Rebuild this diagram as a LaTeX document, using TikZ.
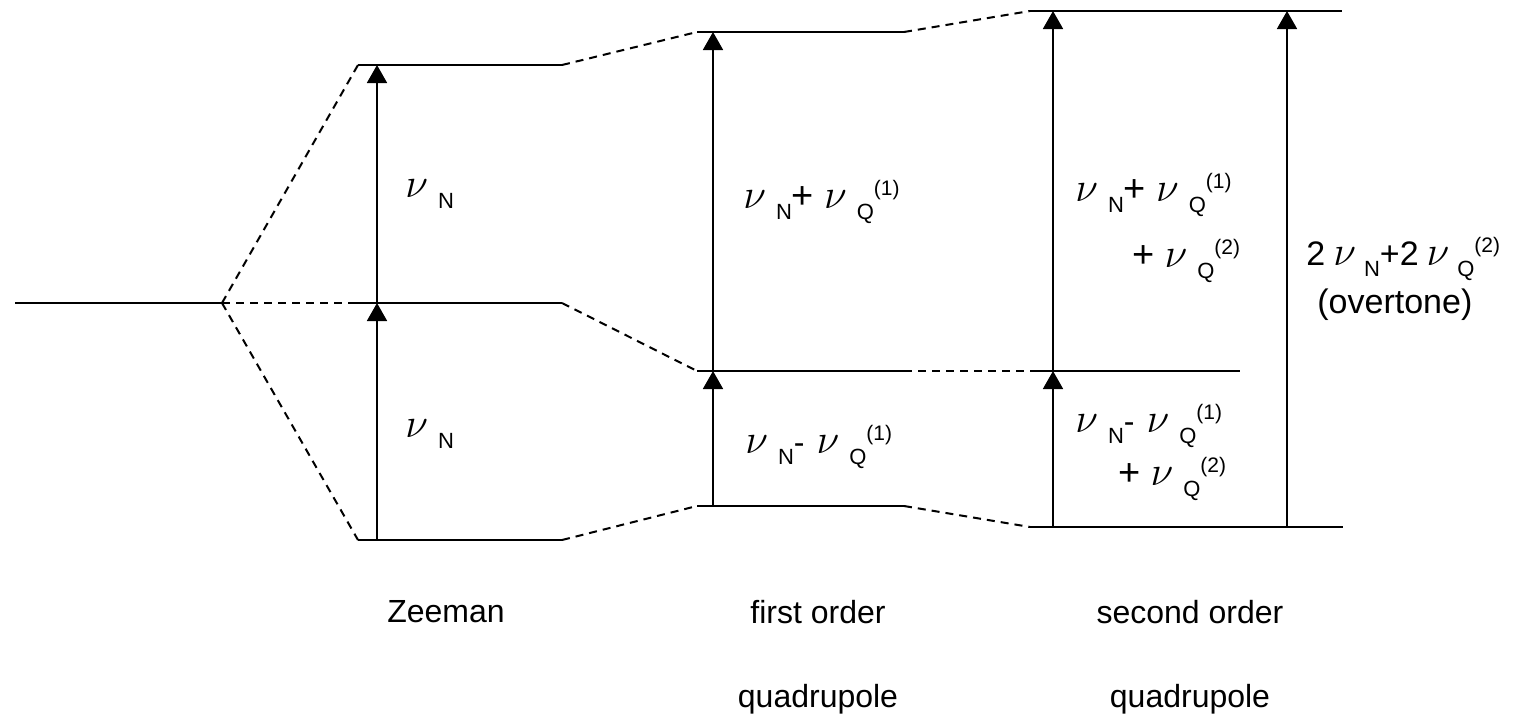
\documentclass[tikz,border=0pt]{standalone}
\usepackage{fontspec}
\setmainfont{Liberation Sans}
\usetikzlibrary{arrows.meta}
\newcommand\nv{{\fontsize{21.5}{22}\selectfont$\nu$}}
\newcommand\pl{{\fontsize{19}{20}\selectfont +}}
\newcommand\sbs[1]{\raisebox{-5.5pt}{\fontsize{11}{12}\selectfont #1}}
\newcommand\sps[1]{\raisebox{6.5pt}{\fontsize{10.5}{12}\selectfont #1}}
\tikzset{
  level/.style={line width=1pt},
  link/.style={line width=1pt, dash pattern=on 4pt off 3pt},
  trans/.style={line width=0.9pt, -{Triangle[width=10pt,length=9pt]}},
  lab/.style={anchor=base west, inner sep=0pt, font=\fontsize{16}{18}\selectfont},
  captext/.style={anchor=base, inner sep=0pt, font=\fontsize{16}{18}\selectfont},
}
\begin{document}
\begin{tikzpicture}[x=0.5pt,y=-0.5pt]
\useasboundingbox (0,0) rectangle (1520,723);
% level end points
\coordinate (L0a) at (15,303);  \coordinate (L0b) at (222,303);
\coordinate (Zt1) at (358,65);  \coordinate (Zt2) at (562,65);
\coordinate (Zm0) at (356,303); \coordinate (Zm2) at (562,303);
\coordinate (Zb1) at (358,540); \coordinate (Zb2) at (562,540);
\coordinate (Ft1) at (697,32);  \coordinate (Ft2) at (904,32);
\coordinate (Fm1) at (697,371); \coordinate (Fm2) at (904,371);
\coordinate (Fb1) at (697,506); \coordinate (Fb2) at (904,506);
\coordinate (St1) at (1030,11); \coordinate (St2) at (1342,11);
\coordinate (Sm1) at (1030,371);\coordinate (Sm2) at (1240,371);
\coordinate (Sb1) at (1030,527);\coordinate (Sb2) at (1343,527);
% levels
\draw[level] (L0a) -- (L0b);
\draw[level] (Zt1) -- (Zt2);
\draw[level] (Zm0) -- (Zm2);
\draw[level] (Zb1) -- (Zb2);
\draw[level] (Ft1) -- (Ft2);
\draw[level] (Fm1) -- (Fm2);
\draw[level] (Fb1) -- (Fb2);
\draw[level] (St1) -- (St2);
\draw[level] (Sm1) -- (Sm2);
\draw[level] (Sb1) -- (Sb2);
% correlation links
\draw[link] (L0b) -- (Zt1);
\draw[link] (L0b) -- (Zm0);
\draw[link] (L0b) -- (Zb1);
\draw[link] (Zt2) -- (Ft1);
\draw[link] (Zm2) -- (Fm1);
\draw[link] (Zb2) -- (Fb1);
\draw[link] (Ft2) -- (St1);
\draw[link] (Fm2) -- (Sm1);
\draw[link] (Fb2) -- (Sb1);
% transitions
\coordinate (a1) at (377,540); \coordinate (a2) at (377,303); \coordinate (a3) at (377,65);
\coordinate (b1) at (713,506); \coordinate (b2) at (713,371); \coordinate (b3) at (713,32);
\coordinate (c1) at (1053,527); \coordinate (c2) at (1053,371); \coordinate (c3) at (1053,11);
\coordinate (d1) at (1287,527); \coordinate (d3) at (1287,11);
\draw[trans] (a1) -- (a2);
\draw[trans] (a2) -- (a3);
\draw[trans] (b1) -- (b2);
\draw[trans] (b2) -- (b3);
\draw[trans] (c1) -- (c2);
\draw[trans] (c2) -- (c3);
\draw[trans] (d1) -- (d3);
% labels
\node[lab] (z1) at (405,197) {\nv\hspace{5pt}\sbs{N}};
\node[lab] (z2) at (405,437) {\nv\hspace{5pt}\sbs{N}};
\node[lab] (f1) at (743,208) {\nv\hspace{5pt}\sbs{N}\pl\hspace{5pt}\nv\hspace{5pt}\sbs{Q}\sps{(1)}};
\node[lab] (f2) at (745,453) {\nv\hspace{5pt}\sbs{N}-\hspace{6pt}\nv\hspace{5pt}\sbs{Q}\sps{(1)}};
\node[lab] (s1) at (1075,201) {\nv\hspace{5pt}\sbs{N}\pl\hspace{5pt}\nv\hspace{5pt}\sbs{Q}\sps{(1)}};
\node[lab] (s2) at (1132,267) {\pl\hspace{5pt}\nv\hspace{5pt}\sbs{Q}\sps{(2)}};
\node[lab] (s3) at (1075,432) {\nv\hspace{5pt}\sbs{N}-\hspace{6pt}\nv\hspace{5pt}\sbs{Q}\sps{(1)}};
\node[lab] (s4) at (1118,485) {\pl\hspace{5pt}\nv\hspace{5pt}\sbs{Q}\sps{(2)}};
\node[lab, font=\fontsize{17}{19}\selectfont] (o1) at (1306,265) {2\hspace{4pt}\nv\hspace{4pt}\sbs{N}+2\hspace{4pt}\nv\hspace{4pt}\sbs{Q}\sps{(2)}};
\node[lab, font=\fontsize{17}{19}\selectfont] (o2) at (1317,313) {(overtone)};
\node[captext] (n1) at (446,622) {Zeeman};
\node[captext] (n2) at (818,623) {first order};
\node[captext] (n3) at (818,707) {quadrupole};
\node[captext] (n4) at (1190,623) {second order};
\node[captext] (n5) at (1190,707) {quadrupole};
\end{tikzpicture}
\end{document}
